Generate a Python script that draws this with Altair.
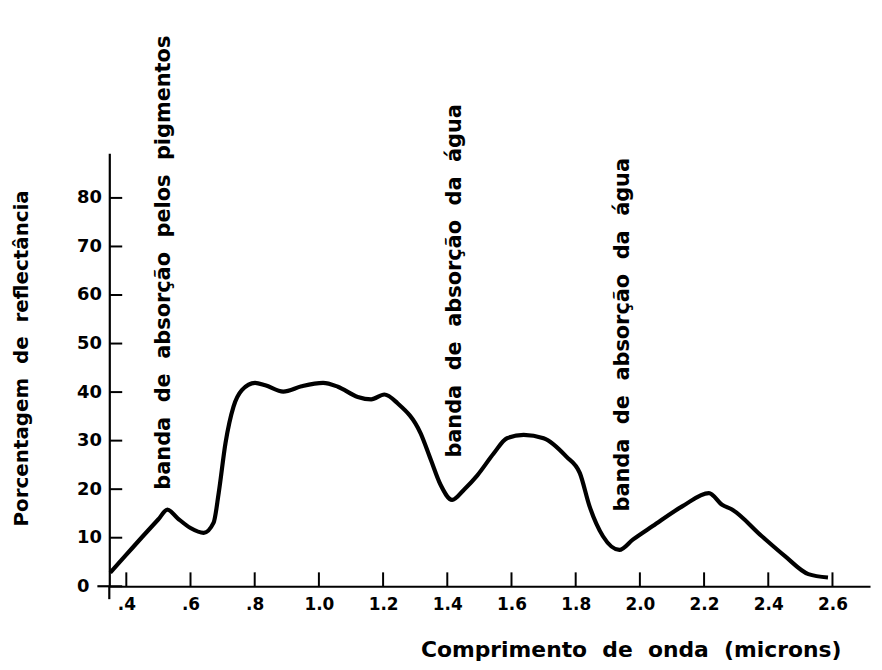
import altair as alt
import pandas as pd

# spectral reflectance curve (wavelength in microns, reflectance %)
wavelength = [0.35, 0.40, 0.45, 0.50, 0.528, 0.56, 0.60, 0.641, 0.672, 0.688, 0.709, 0.734,
              0.760, 0.801, 0.833, 0.889, 0.946, 1.013, 1.059, 1.121, 1.163, 1.204, 1.245,
              1.317, 1.349, 1.379, 1.415, 1.452, 1.493, 1.545, 1.586, 1.638, 1.700, 1.771,
              1.813, 1.843, 1.885, 1.936, 1.978, 2.040, 2.133, 2.215, 2.256, 2.287, 2.380,
              2.452, 2.525, 2.586]
reflectance = [2.8, 6.5, 10.2, 13.8, 15.8, 14.0, 12.0, 11.0, 13.1, 19.3, 29.5, 37.0,
               40.4, 41.9, 41.4, 40.1, 41.2, 41.9, 41.1, 39.0, 38.5, 39.5, 37.7,
               31.5, 26.0, 20.9, 17.8, 19.9, 22.8, 27.4, 30.5, 31.2, 30.5, 26.7,
               23.3, 16.5, 10.3, 7.5, 9.6, 12.4, 16.5, 19.2, 16.8, 15.8, 10.3,
               6.2, 2.5, 1.8]

SP = "\u00a0\u00a0"  # wide word spacing as in the hand lettering
ann_text = [SP.join("banda de absorção pelos pigmentos".split()),
            SP.join("banda de absorção da água".split()),
            SP.join("banda de absorção da água".split())]
ann_x = [0.518, 1.425, 1.948]
ann_y = [19.9, 26.5, 15.4]

x_ticks = [0.4, 0.6, 0.8, 1.0, 1.2, 1.4, 1.6, 1.8, 2.0, 2.2, 2.4, 2.6]
y_ticks = [0, 10, 20, 30, 40, 50, 60, 70, 80]

x_title = SP.join("Comprimento de onda (microns)".split())
y_title = SP.join("Porcentagem de reflectância".split())

FONT = "DejaVu Sans"
W, H = 766, 436

curve = pd.DataFrame({"wl": wavelength, "r": reflectance})
ann = pd.DataFrame({"t": ann_text, "wl": ann_x, "r": ann_y})
xt = pd.DataFrame({"v": x_ticks})
yt = pd.DataFrame({"v": y_ticks})

xscale = alt.Scale(domain=[0.347, 2.717], nice=False, zero=False)
yscale = alt.Scale(domain=[0, 89.2], nice=False)

xaxis = alt.Axis(values=x_ticks, ticks=False, grid=False, domainColor="black", domainWidth=2.2,
                 labelExpr="datum.value < 1 ? '.' + format(datum.value * 10, '.0f') : format(datum.value, '.1f')",
                 labelFont=FONT, labelFontWeight="bold", labelFontSize=17, labelPadding=10,
                 labelColor="black",
                 title=x_title, titleFont=FONT, titleFontWeight="bold",
                 titleFontSize=22, titleX=525, titleY=64, titleAlign="center",
                 titleBaseline="middle", titleColor="black")
yaxis = alt.Axis(values=y_ticks, ticks=False, grid=False, domainColor="black", domainWidth=2.2,
                 labelFont=FONT, labelFontWeight="bold", labelFontSize=18, labelPadding=33,
                 labelAlign="left", labelColor="black",
                 title=y_title, titleFont=FONT, titleFontWeight="bold",
                 titleFontSize=20, titleX=-88, titleY=206, titleAlign="center",
                 titleBaseline="middle", titleColor="black")

line = alt.Chart(curve).mark_line(color="black", strokeWidth=4.2, interpolate="monotone").encode(
    x=alt.X("wl:Q", scale=xscale, axis=xaxis),
    y=alt.Y("r:Q", scale=yscale, axis=yaxis),
)

xtick_marks = alt.Chart(xt).mark_rule(color="black", strokeWidth=2).encode(
    x=alt.X("v:Q", scale=xscale), y=alt.value(H), y2=alt.value(H - 14)
)
ytick_marks = alt.Chart(yt).mark_rule(color="black", strokeWidth=2).encode(
    y=alt.Y("v:Q", scale=yscale), x=alt.value(0), x2=alt.value(13)
)
axis_ext = alt.Chart(pd.DataFrame({"a": [0]})).mark_rule(color="black", strokeWidth=2.2).encode(
    x=alt.value(0), y=alt.value(H), y2=alt.value(H + 13)
)
axis_ext2 = alt.Chart(pd.DataFrame({"a": [0]})).mark_rule(color="black", strokeWidth=2.2).encode(
    x=alt.value(-12), x2=alt.value(0), y=alt.value(H)
)

labels = alt.Chart(ann).mark_text(angle=270, align="left", baseline="middle", font=FONT,
                                  fontWeight="bold", fontSize=21, color="black").encode(
    x=alt.X("wl:Q", scale=xscale), y=alt.Y("r:Q", scale=yscale), text="t:N"
)

chart = alt.layer(line, xtick_marks, ytick_marks, axis_ext, axis_ext2, labels).properties(
    width=W, height=H,
    autosize=alt.AutoSizeParams(type="none"),
    padding={"left": 102, "top": 144, "right": 4, "bottom": 74},
    background="white",
).configure_view(strokeWidth=0)

chart.save("out.html", embed_options={"renderer": "svg", "actions": False})
